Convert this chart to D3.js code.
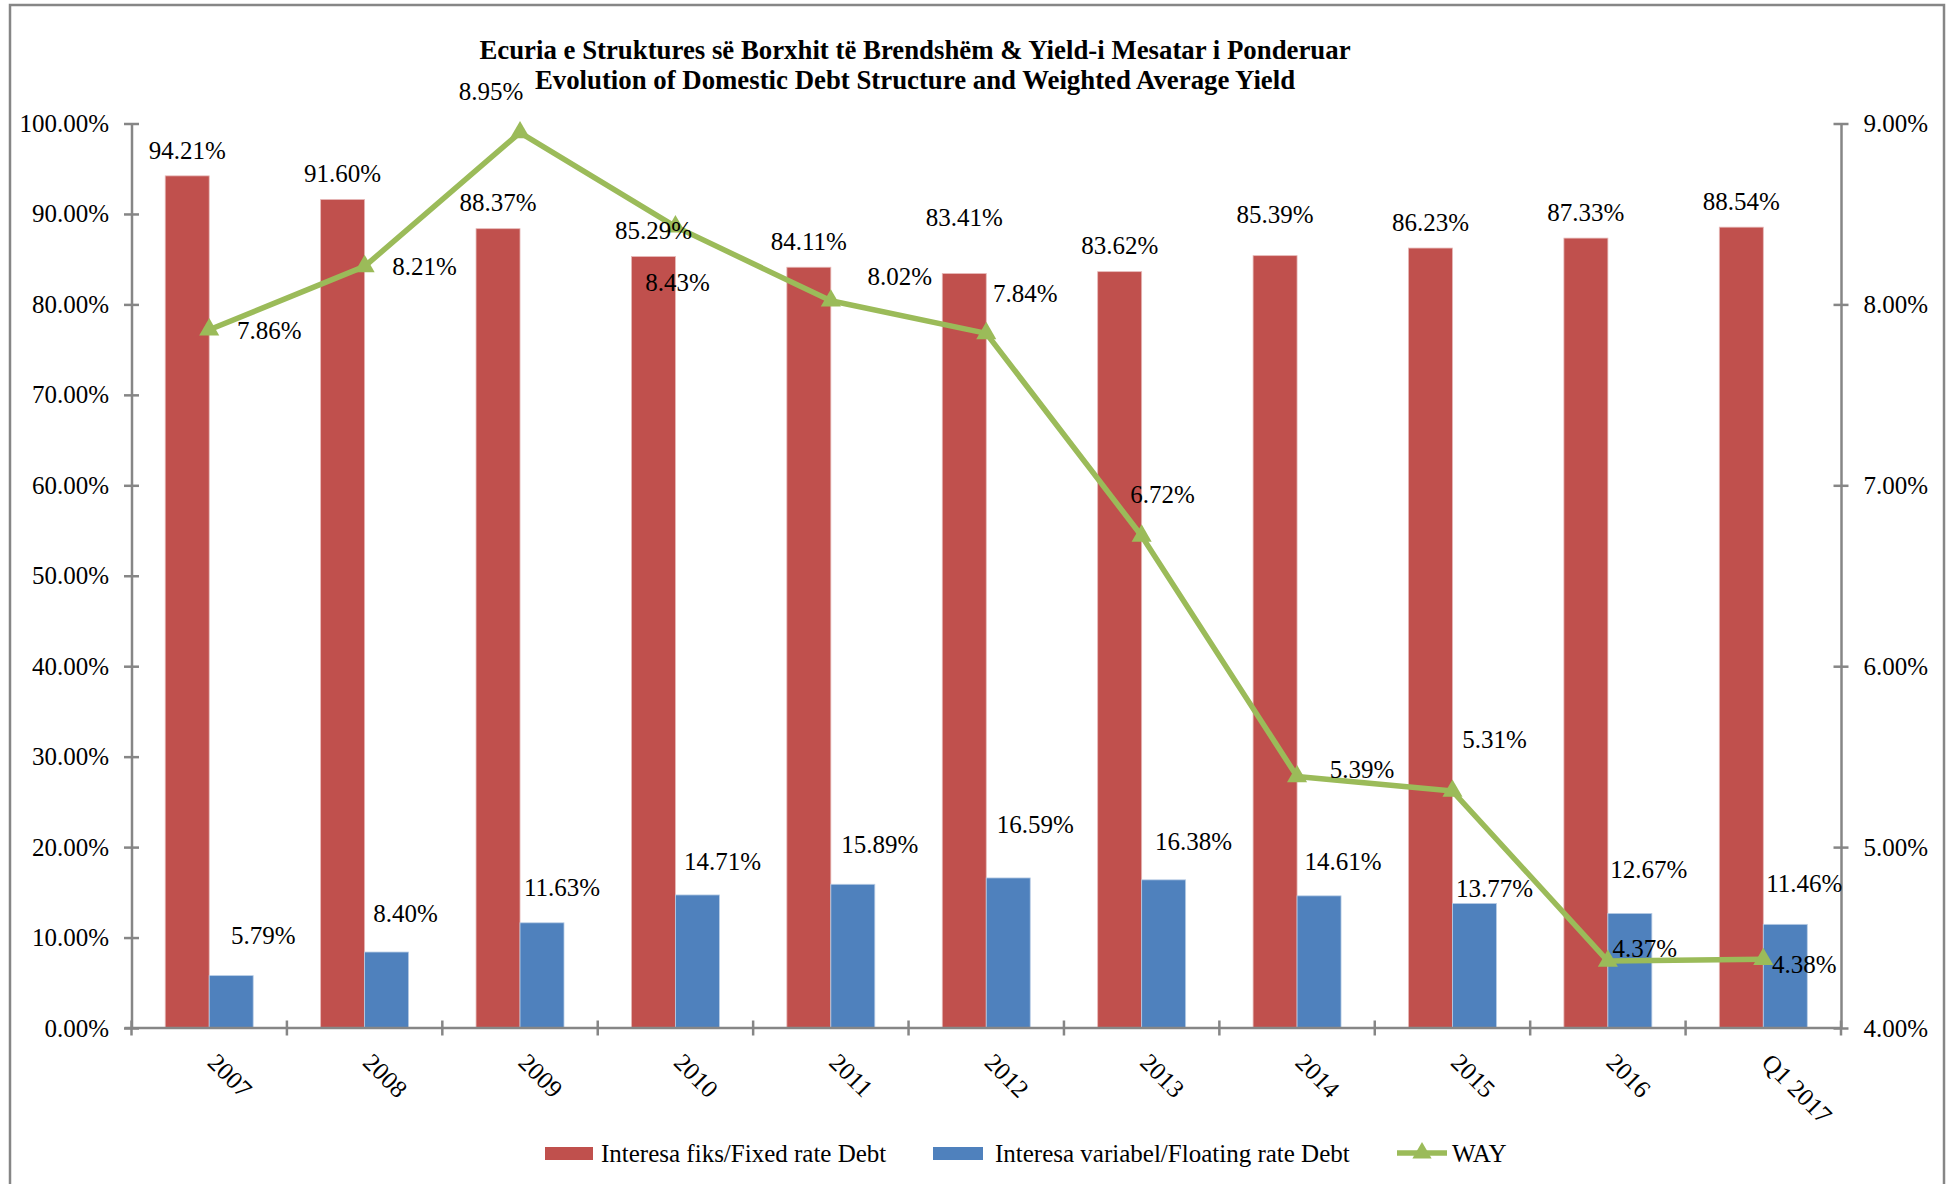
<!DOCTYPE html>
<html>
<head>
<meta charset="utf-8">
<script src="https://cdn.jsdelivr.net/npm/d3@7"></script>
<style>
  html, body { margin: 0; padding: 0; background: #fff; }
  svg text { font-family: "Liberation Serif", "Times New Roman", serif; fill: #000; }
</style>
</head>
<body>
<svg id="chart" width="1959" height="1184"></svg>
<script>
// ---- data ----
const categories = ["2007","2008","2009","2010","2011","2012","2013","2014","2015","2016","Q1 2017"];
const fixedRate  = [94.21, 91.60, 88.37, 85.29, 84.11, 83.41, 83.62, 85.39, 86.23, 87.33, 88.54];
const floatRate  = [5.79, 8.40, 11.63, 14.71, 15.89, 16.59, 16.38, 14.61, 13.77, 12.67, 11.46];
const way        = [7.86, 8.21, 8.95, 8.43, 8.02, 7.84, 6.72, 5.39, 5.31, 4.37, 4.38];
const leftTicks  = [0,10,20,30,40,50,60,70,80,90,100];
const rightTicks = [4,5,6,7,8,9];
const titleLines = ["Ecuria e Struktures së Borxhit të Brendshëm & Yield-i Mesatar i Ponderuar",
                    "Evolution of Domestic Debt Structure and Weighted Average Yield"];
const seriesNames = ["Interesa fiks/Fixed rate Debt", "Interesa variabel/Floating rate Debt", "WAY"];

// ---- label nudges (layout only) ----
const fixedLabelDy = [-26,-26,-26,-26,-26,-56,-26,-41,-26,-26,-26];
const floatLabelDx = [32,19,20,25,27,27,30,24,20,19,19];
const floatLabelDy = [-40,-39,-36,-34,-40,-54,-39,-35,-15,-44,-41];
const wayLabelDx   = [60,60,-29,2,69,39,21,65,42,37,41];
const wayLabelDy   = [1,0,-41,56,-25,-40,-42,-7,-52,-13,5];

const C_RED = "#C0504D", C_BLUE = "#4F81BD", C_GREEN = "#9BBB59", C_AXIS = "#868686";
const FS = 25;

const svg = d3.select("#chart");
const L = 131.5, R = 1841, T = 123.5, B = 1028;

// border
svg.append("rect").attr("x", 10).attr("y", 5).attr("width", 1934).attr("height", 1200)
  .attr("fill", "none").attr("stroke", C_AXIS).attr("stroke-width", 2.5);

const x0 = d3.scaleBand().domain(categories).range([L, R]).paddingInner(0).paddingOuter(0);
const bw = x0.bandwidth();
const groupW = bw * 0.566;
const x1 = d3.scaleBand().domain(["fixed","float"]).range([0, groupW]);
const yL = d3.scaleLinear().domain([0, 100]).range([B, T]);
const yR = d3.scaleLinear().domain([4, 9]).range([B, T]);
const cx = c => x0(c) + bw / 2;
const gx = c => x0(c) + (bw - groupW) / 2;

// bars
const g = svg.append("g");
g.selectAll("rect.fixed").data(categories).join("rect")
  .attr("x", c => gx(c) + x1("fixed")).attr("width", x1.bandwidth())
  .attr("y", (c,i) => yL(fixedRate[i])).attr("height", (c,i) => B - yL(fixedRate[i]))
  .attr("fill", C_RED).attr("stroke", "#E6B9B8").attr("stroke-width", 0.8);
g.selectAll("rect.float").data(categories).join("rect")
  .attr("x", c => gx(c) + x1("float")).attr("width", x1.bandwidth())
  .attr("y", (c,i) => yL(floatRate[i])).attr("height", (c,i) => B - yL(floatRate[i]))
  .attr("fill", C_BLUE).attr("stroke", "#B9CDE5").attr("stroke-width", 0.8);

// axes
function styleAxis(sel) {
  sel.selectAll("path.domain").attr("stroke", C_AXIS).attr("stroke-width", 2.5);
  sel.selectAll(".tick line").attr("stroke", C_AXIS).attr("stroke-width", 2.5);
  sel.selectAll(".tick text").attr("font-size", FS).attr("font-family", "Liberation Serif").attr("fill", "#000");
}
const leftAxis = svg.append("g").attr("transform", `translate(${L},0)`)
  .call(d3.axisLeft(yL).tickValues(leftTicks).tickFormat(d => d3.format(".2f")(d) + "%").tickSizeInner(7.5).tickSizeOuter(0).tickPadding(15));
styleAxis(leftAxis);
leftAxis.selectAll(".tick line").attr("x1", -7.5).attr("x2", 7.5);

const rightAxis = svg.append("g").attr("transform", `translate(${R},0)`)
  .call(d3.axisRight(yR).tickValues(rightTicks).tickFormat(d => d3.format(".2f")(d) + "%").tickSizeInner(7.5).tickSizeOuter(0).tickPadding(15));
styleAxis(rightAxis);
rightAxis.selectAll(".tick line").attr("x1", -7.5).attr("x2", 7.5);

// x axis: boundaries ticks
const xAxisG = svg.append("g");
xAxisG.append("line").attr("x1", L - 7).attr("x2", R).attr("y1", B).attr("y2", B)
  .attr("stroke", C_AXIS).attr("stroke-width", 2.5);
const bounds = categories.map(c => x0(c)).concat([R]);
xAxisG.selectAll("line.tk").data(bounds).join("line")
  .attr("x1", d => d).attr("x2", d => d).attr("y1", B - 7.5).attr("y2", B + 7.5)
  .attr("stroke", C_AXIS).attr("stroke-width", 2.5);
xAxisG.selectAll("text").data(categories).join("text")
  .attr("transform", c => `translate(${cx(c) - 3},${B + 36}) rotate(45)`)
  .attr("font-size", FS).attr("text-anchor", "start").text(c => c);

// line
const line = d3.line().x(d => cx(d.c)).y(d => yR(d.v));
const wayData = categories.map((c, i) => ({c, v: way[i], i}));
svg.append("path").datum(wayData).attr("d", line)
  .attr("fill", "none").attr("stroke", C_GREEN).attr("stroke-width", 5.5).attr("stroke-linejoin", "round");
svg.selectAll("path.mk").data(wayData).join("path")
  .attr("d", d3.symbol().type(d3.symbolTriangle).size(175))
  .attr("transform", d => `translate(${cx(d.c)},${yR(d.v)})`)
  .attr("fill", C_GREEN);

// data labels
const fmt = v => d3.format(".2f")(v) + "%";
svg.selectAll("text.fl").data(categories).join("text")
  .attr("x", c => gx(c) + x1("fixed") + x1.bandwidth() / 2)
  .attr("y", (c,i) => yL(fixedRate[i]) + fixedLabelDy[i])
  .attr("dy", "0.35em").attr("text-anchor", "middle").attr("font-size", FS)
  .text((c,i) => fmt(fixedRate[i]));
svg.selectAll("text.vl").data(categories).join("text")
  .attr("x", (c,i) => gx(c) + x1("float") + x1.bandwidth() / 2 + floatLabelDx[i])
  .attr("y", (c,i) => yL(floatRate[i]) + floatLabelDy[i])
  .attr("dy", "0.35em").attr("text-anchor", "middle").attr("font-size", FS)
  .text((c,i) => fmt(floatRate[i]));
svg.selectAll("text.wl").data(wayData).join("text")
  .attr("x", d => cx(d.c) + wayLabelDx[d.i])
  .attr("y", d => yR(d.v) + wayLabelDy[d.i])
  .attr("dy", "0.35em").attr("text-anchor", "middle").attr("font-size", FS)
  .text(d => fmt(d.v));

// title
svg.selectAll("text.title").data(titleLines).join("text")
  .attr("x", 915).attr("y", (d,i) => 59 + i * 30)
  .attr("text-anchor", "middle").attr("font-size", 26.8).attr("font-weight", "bold")
  .text(d => d);

// legend
const lg = svg.append("g").attr("transform", "translate(0,1153)");
lg.append("rect").attr("x", 545).attr("y", -6).attr("width", 48).attr("height", 13).attr("fill", C_RED);
lg.append("text").attr("x", 601).attr("dy", "0.35em").attr("font-size", 25).text(seriesNames[0]);
lg.append("rect").attr("x", 933).attr("y", -6).attr("width", 50).attr("height", 13).attr("fill", C_BLUE);
lg.append("text").attr("x", 995).attr("dy", "0.35em").attr("font-size", 25).text(seriesNames[1]);
lg.append("line").attr("x1", 1397).attr("x2", 1447).attr("y1", 0).attr("y2", 0)
  .attr("stroke", C_GREEN).attr("stroke-width", 5.5);
lg.append("path").attr("d", d3.symbol().type(d3.symbolTriangle).size(160)).attr("transform", "translate(1422,0)").attr("fill", C_GREEN);
lg.append("text").attr("x", 1452).attr("dy", "0.35em").attr("font-size", 25).text(seriesNames[2]);
</script>
</body>
</html>
